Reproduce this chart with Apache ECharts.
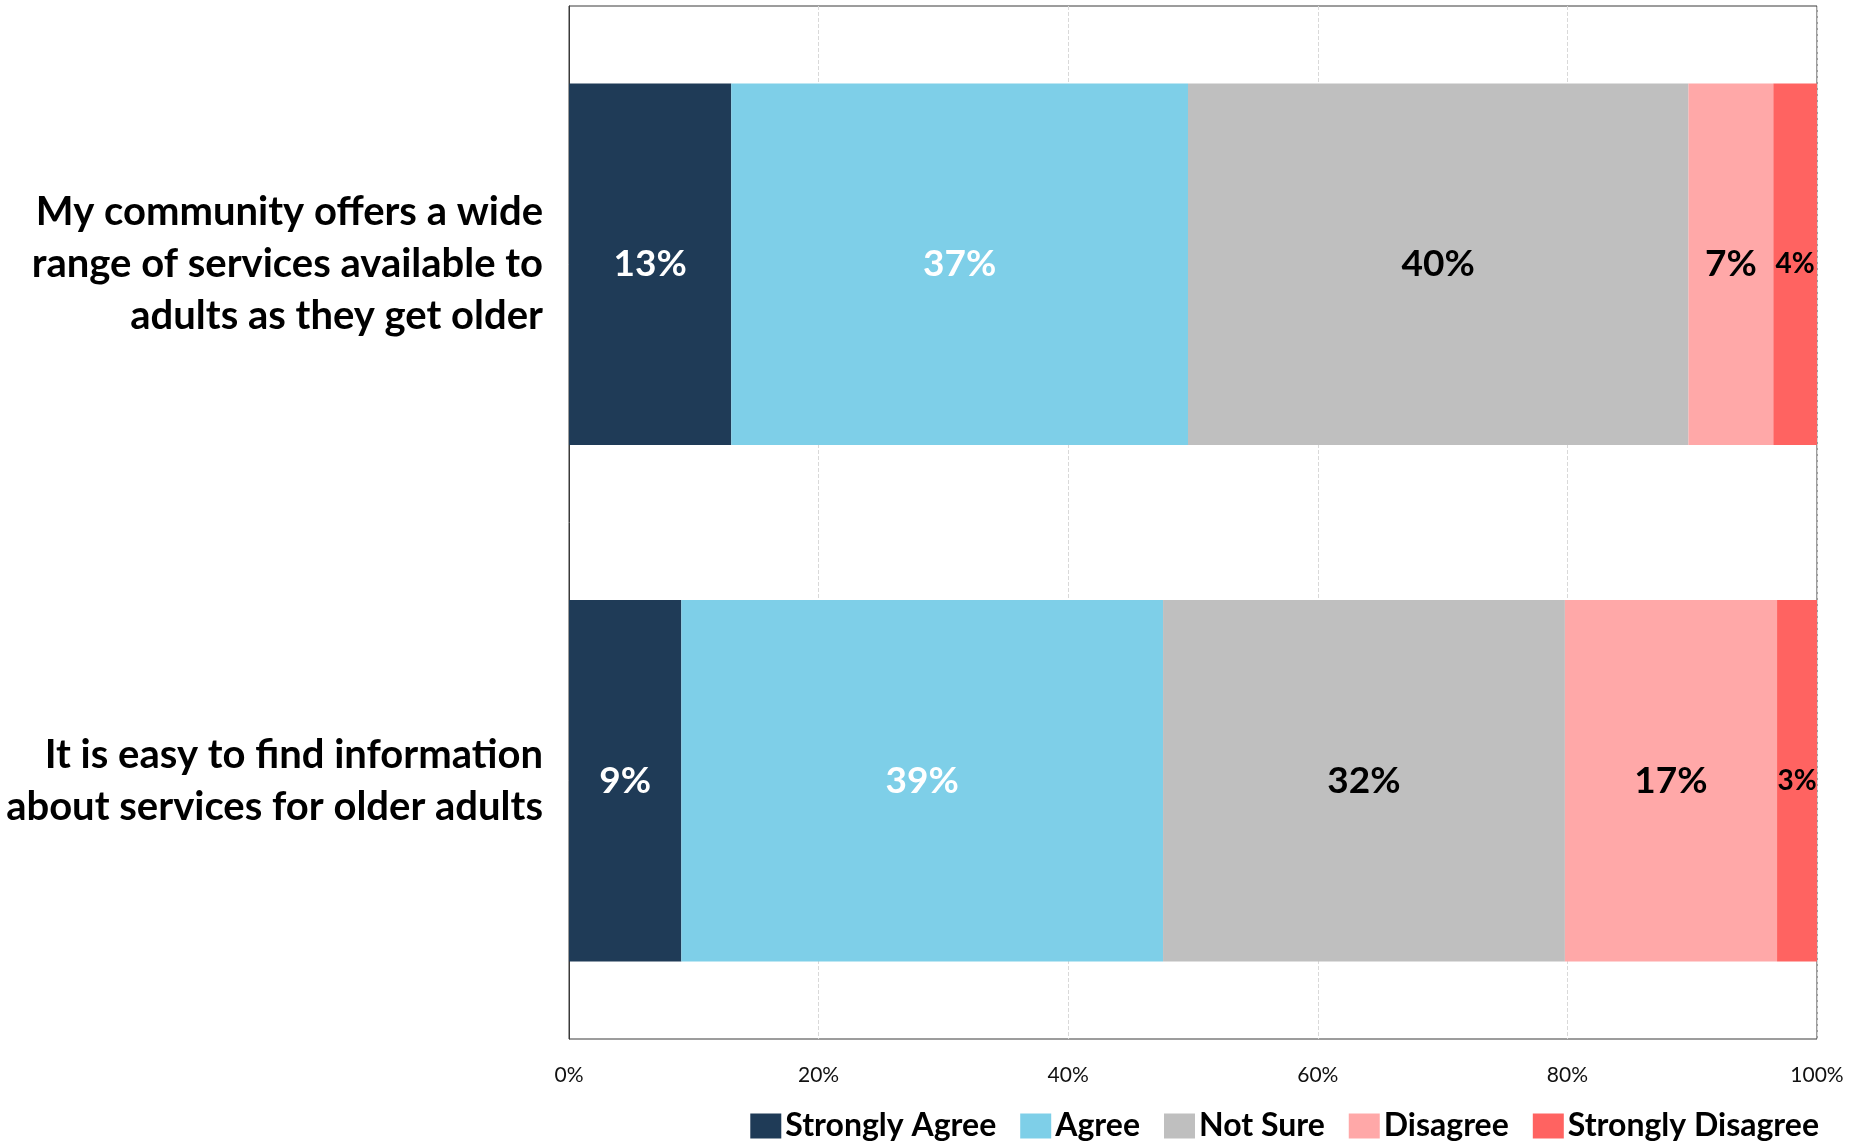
<!DOCTYPE html>
<html>
<head>
<meta charset="utf-8">
<script src="https://cdn.jsdelivr.net/npm/echarts@6/dist/echarts.min.js"></script>
<style>
  html, body { margin: 0; padding: 0; background: #fff; }
  #myChart { width: 1872px; height: 1143px; }
</style>
</head>
<body>
<div id="myChart"></div>
<script>
// survey statements (top to bottom)
const categories = [
  "My community offers a wide\nrange of services available to\nadults as they get older",
  "It is easy to find information\nabout services for older adults",
];
const seriesNames = ["Strongly Agree", "Agree", "Not Sure", "Disagree", "Strongly Disagree"];
const stronglyAgree = [13.0, 9.0];
const agree = [36.6, 38.6];
const notSure = [40.1, 32.2];
const disagree = [6.8, 17.0];
const stronglyDisagree = [3.5, 3.2];
const tickLabels = ["0%", "20%", "40%", "60%", "80%", "100%"];

const colors = ["#1f3b57", "#7ecfe8", "#bfbfbf", "#ffa8a8", "#ff6361"];
const labelColors = ["#ffffff", "#ffffff", "#000000", "#000000", "#000000"];
const values = [stronglyAgree, agree, notSure, disagree, stronglyDisagree];
const fontFamily = "Lato, 'Open Sans', sans-serif";

const chart = echarts.init(document.getElementById("myChart"));

const series = seriesNames.map((name, i) => ({
  name: name,
  type: "bar",
  stack: "total",
  barWidth: "70%",
  itemStyle: { color: colors[i] },
  label: {
    show: true,
    position: "inside",
    color: labelColors[i],
    fontFamily: fontFamily,
    fontWeight: "bold",
    fontSize: 37,
    formatter: (p) => Math.round(p.value) + "%",
  },
  data: values[i].map((v) => ({
    value: v,
    label: v < 5 ? { fontSize: 28 } : {},
  })),
}));

chart.setOption({
  animation: false,
  textStyle: { fontFamily: fontFamily },
  grid: {
    left: 569,
    right: 55,
    top: 6,
    bottom: 104,
    show: true,
    borderColor: "#3a3a3a",
    borderWidth: 1,
  },
  legend: {
    data: seriesNames,
    right: 48,
    top: 1105,
    icon: "rect",
    itemWidth: 31,
    itemHeight: 25,
    itemGap: 24,
    textStyle: {
      fontFamily: fontFamily,
      fontWeight: "bold",
      fontSize: 32,
      color: "#000",
      padding: [0, 0, 0, -1],
    },
  },
  xAxis: {
    type: "value",
    min: 0,
    max: 100,
    interval: 20,
    axisLine: { show: false },
    axisTick: { show: false },
    axisLabel: {
      margin: 26,
      fontSize: 21,
      color: "#111",
      formatter: (v) => tickLabels[v / 20],
    },
    splitLine: {
      show: true,
      lineStyle: { type: "dashed", color: "#d9d9d9" },
    },
  },
  yAxis: {
    type: "category",
    inverse: true,
    data: categories,
    axisLine: { show: true, lineStyle: { color: "#3a3a3a" } },
    axisTick: { show: false },
    axisLabel: {
      margin: 26,
      fontSize: 40,
      fontWeight: "bold",
      lineHeight: 52,
      color: "#000",
      align: "right",
    },
  },
  series: series,
});
</script>
</body>
</html>
